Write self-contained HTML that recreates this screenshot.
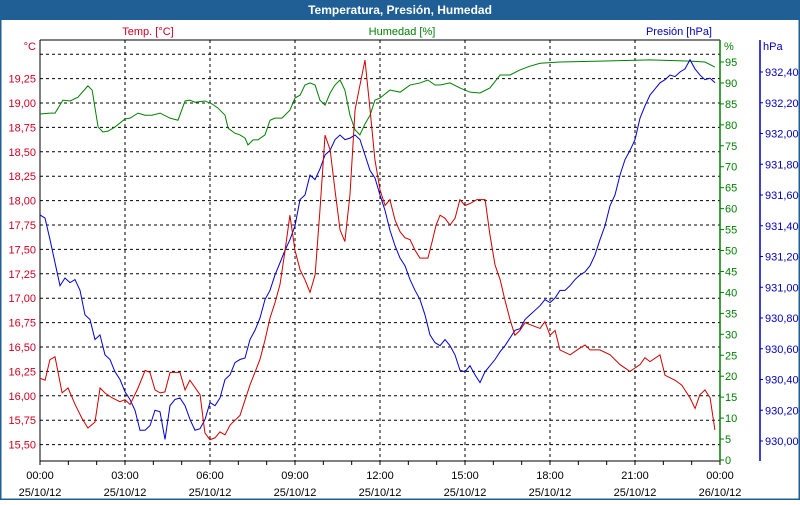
<!DOCTYPE html>
<html><head><meta charset="utf-8"><style>
body{margin:0;width:800px;height:500px;overflow:hidden;background:#fff;font-family:"Liberation Sans",sans-serif}
svg text{font-family:"Liberation Sans",sans-serif;font-size:11px}
</style></head><body>
<svg id="c" width="800" height="500">
<rect x="0" y="0" width="800" height="500" fill="#fff" stroke="#1f5f96" stroke-width="3"/>
<rect x="0" y="0" width="800" height="20" fill="#1f5f96"/>
<text x="400" y="14" text-anchor="middle" fill="#fff" font-weight="bold" style="font-size:12px">Temperatura, Presión, Humedad</text>
<text x="148" y="35" text-anchor="middle" fill="#d00020">Temp. [°C]</text>
<text x="402" y="35" text-anchor="middle" fill="#008000">Humedad [%]</text>
<text x="712" y="35" text-anchor="end" fill="#0000c0">Presión [hPa]</text>
<text x="36" y="50" text-anchor="end" fill="#d00020">°C</text>
<text x="724" y="50" fill="#008000">%</text>
<text x="763" y="50" fill="#0000c0">hPa</text>
<g id="g"></g>
</svg>
<script>
const tempTicks=[15.5,15.75,16,16.25,16.5,16.75,17,17.25,17.5,17.75,18,18.25,18.5,18.75,19,19.25];
const humTicks=[0,5,10,15,20,25,30,35,40,45,50,55,60,65,70,75,80,85,90,95];
const presTicks=[930.0,930.2,930.4,930.6,930.8,931.0,931.2,931.4,931.6,931.8,932.0,932.2,932.4];
const timeTicks=[0,3,6,9,12,15,18,21,24];
const timeLabels=["00:00","03:00","06:00","09:00","12:00","15:00","18:00","21:00","00:00"];
const dateLabels=["25/10/12","25/10/12","25/10/12","25/10/12","25/10/12","25/10/12","25/10/12","25/10/12","26/10/12"];
const tempHours=[0,0.18,0.35,0.53,0.78,0.99,1.24,1.48,1.69,1.94,2.12,2.29,2.54,2.82,3.0,3.18,3.46,3.71,3.88,4.06,4.24,4.41,4.59,4.94,5.12,5.29,5.65,5.82,6.0,6.18,6.35,6.53,6.71,7.06,7.24,7.41,7.76,7.94,8.12,8.29,8.47,8.65,8.82,9.0,9.18,9.35,9.53,9.71,9.88,10.06,10.24,10.41,10.59,10.76,10.94,11.12,11.29,11.47,11.65,11.82,12.0,12.18,12.35,12.53,12.71,12.88,13.06,13.24,13.41,13.69,13.84,13.98,14.12,14.29,14.47,14.65,14.82,15.0,15.18,15.42,15.71,15.88,16.06,16.24,16.41,16.59,16.76,16.94,17.12,17.29,17.65,17.82,18.0,18.18,18.35,18.71,19.06,19.24,19.41,19.76,20.12,20.47,20.82,21.18,21.35,21.53,21.88,22.06,22.41,22.65,22.94,23.12,23.29,23.47,23.65,23.82];
const tempValues=[16.18,16.16,16.37,16.40,16.03,16.08,15.91,15.77,15.67,15.73,16.08,16.03,15.98,15.94,15.96,15.91,16.08,16.26,16.24,16.06,16.03,16.04,16.24,16.24,16.06,16.16,16.01,15.62,15.55,15.57,15.63,15.60,15.70,15.80,15.96,16.11,16.37,16.57,16.80,16.95,17.14,17.49,17.85,17.49,17.29,17.19,17.06,17.24,17.90,18.67,18.52,18.11,17.70,17.58,18.06,18.93,19.18,19.44,18.93,18.42,18.11,17.95,18.01,17.80,17.68,17.62,17.60,17.49,17.41,17.41,17.58,17.75,17.85,17.82,17.75,17.82,18.01,17.95,17.97,18.01,18.01,17.65,17.34,17.19,16.98,16.78,16.62,16.67,16.75,16.73,16.69,16.76,16.62,16.67,16.47,16.42,16.49,16.52,16.47,16.47,16.42,16.32,16.25,16.32,16.39,16.35,16.42,16.21,16.16,16.11,15.98,15.87,16.01,16.06,15.98,15.65];
const humHours=[0,0.35,0.53,0.81,1.06,1.34,1.69,1.84,2.05,2.22,2.40,2.65,3.0,3.18,3.46,3.71,3.95,4.24,4.59,4.87,5.12,5.29,5.47,5.82,6.07,6.28,6.53,6.64,6.88,7.06,7.24,7.34,7.52,7.69,7.94,8.12,8.29,8.54,8.82,9.0,9.18,9.35,9.53,9.71,9.88,10.06,10.24,10.41,10.59,10.76,10.94,11.12,11.29,11.47,11.65,11.82,12.0,12.35,12.71,13.06,13.41,13.69,13.94,14.12,14.47,14.82,15.18,15.53,15.88,16.24,16.59,16.94,17.29,17.65,18.35,19.76,21.53,22.94,23.47,23.82];
const humValues=[82.6,82.8,82.8,85.9,85.7,86.6,89.3,88.3,79.5,78.3,78.5,79.5,81.4,81.6,82.8,82.3,82.3,82.8,81.6,81.1,85.7,85.9,85.4,85.7,85.0,84.0,82.3,79.2,78.0,77.6,76.8,75.2,76.4,76.4,77.6,81.1,81.6,81.6,83.5,86.4,87.1,89.5,90.0,89.5,85.9,84.7,87.6,89.5,90.7,88.3,82.3,78.8,77.6,80.2,82.3,85.9,86.4,88.3,87.8,89.5,90.0,90.7,89.5,89.5,90.0,88.8,87.8,87.6,88.8,91.9,91.9,93.1,94.0,94.7,95.0,95.2,95.5,95.2,95.0,93.8];
const presStepHours=5/85*3;
const presValues=[931.47,931.45,931.31,931.16,931.01,931.06,931.03,931.05,930.98,930.82,930.79,930.66,930.69,930.56,930.53,930.45,930.40,930.32,930.27,930.20,930.07,930.07,930.10,930.20,930.19,930.01,930.23,930.27,930.28,930.23,930.14,930.07,930.08,930.14,930.25,930.23,930.28,930.40,930.43,930.51,930.53,930.54,930.66,930.72,930.80,930.92,930.98,931.08,931.16,931.24,931.31,931.40,931.57,931.60,931.73,931.70,931.77,931.86,931.89,931.96,931.99,931.96,931.97,931.99,931.96,931.86,931.76,931.71,931.60,931.50,931.37,931.27,931.19,931.14,931.05,930.98,930.92,930.82,930.69,930.64,930.62,930.66,930.62,930.56,930.46,930.45,930.49,930.43,930.38,930.45,930.49,930.53,930.58,930.62,930.67,930.72,930.73,930.79,930.82,930.85,930.88,930.92,930.90,930.93,930.98,930.98,931.01,931.05,931.08,931.10,931.14,931.21,931.31,931.40,931.53,931.60,931.73,931.83,931.89,931.96,932.10,932.18,932.25,932.29,932.33,932.35,932.38,932.37,932.40,932.42,932.48,932.42,932.38,932.35,932.36,932.33];

const X0=40,X1=720,Y0=40,Y1=461;
const xs=h=>X0+h*(X1-X0)/24;
const yT=t=>103-(t-19)*97.6;
const yH=v=>460-v*(398/95);
const yP=p=>441-(p-930)/0.2*30.75;
const NS="http://www.w3.org/2000/svg";
const g=document.getElementById('g');
function mk(tag,attrs,txt){const e=document.createElementNS(NS,tag);for(const k in attrs)e.setAttribute(k,attrs[k]);if(txt!==undefined)e.textContent=txt;g.appendChild(e);return e;}
// horizontal grid
[...tempTicks,19.5].forEach(t=>{
 const l=mk('line',{x1:X0,x2:X1,y1:yT(t),y2:yT(t),stroke:'#000','stroke-dasharray':'3,3','stroke-width':1});
 
 
});
tempTicks.forEach(t=>{
 const e=mk('text',{x:36,y:yT(t)+4,'text-anchor':'end',fill:'#d00020'},t.toFixed(2).replace('.',','));
 
 
});
// vertical grid and x labels
timeTicks.forEach((h,i)=>{
 if(h>0&&h<24){const l=mk('line',{x1:xs(h),x2:xs(h),y1:Y0,y2:Y1,stroke:'#000','stroke-dasharray':'3,3'});
 
 }
 const a=mk('text',{x:xs(h),y:479,'text-anchor':'middle',fill:'#000'},timeLabels[i]);
 
 
 const b=mk('text',{x:xs(h),y:496,'text-anchor':'middle',fill:'#000'},dateLabels[i]);
 
 
});
for(let h=0;h<=24;h++){mk('line',{x1:xs(h),x2:xs(h),y1:Y1,y2:Y1+4,stroke:'#000'});}
// frame
mk('line',{x1:X0,x2:X1,y1:Y0,y2:Y0,stroke:'#000'});
mk('line',{x1:X0,x2:X0,y1:Y0,y2:Y1,stroke:'#000'});
mk('line',{x1:X0,x2:X1,y1:Y1,y2:Y1,stroke:'#000'});
// humidity axis
mk('line',{x1:X1,x2:X1,y1:Y0,y2:Y1,stroke:'#008000','stroke-width':1.5});
humTicks.forEach(v=>{
 mk('line',{x1:X1,x2:X1+4,y1:yH(v),y2:yH(v),stroke:'#008000'});
 const e=mk('text',{x:725,y:yH(v)+4,fill:'#008000'},String(v));
 
 
});
// pressure axis
mk('line',{x1:760,x2:760,y1:Y0,y2:Y1,stroke:'#0000c0','stroke-width':1.5});
presTicks.forEach(p=>{
 mk('line',{x1:760,x2:763,y1:yP(p),y2:yP(p),stroke:'#0000c0'});
 const e=mk('text',{x:765,y:yP(p)+4,fill:'#0000c0'},p.toFixed(2).replace('.',','));
 
 
});
// series
const hp=mk('polyline',{points:humValues.map((v,i)=>xs(humHours[i])+','+yH(v)).join(' '),fill:'none',stroke:'#008000','stroke-width':1});


const pp=mk('polyline',{points:presValues.map((v,i)=>xs(i*presStepHours)+','+yP(v)).join(' '),fill:'none',stroke:'#0000d0','stroke-width':1});


const tp=mk('polyline',{points:tempValues.map((v,i)=>xs(tempHours[i])+','+yT(v)).join(' '),fill:'none',stroke:'#d00000','stroke-width':1});


</script>
</body></html>
